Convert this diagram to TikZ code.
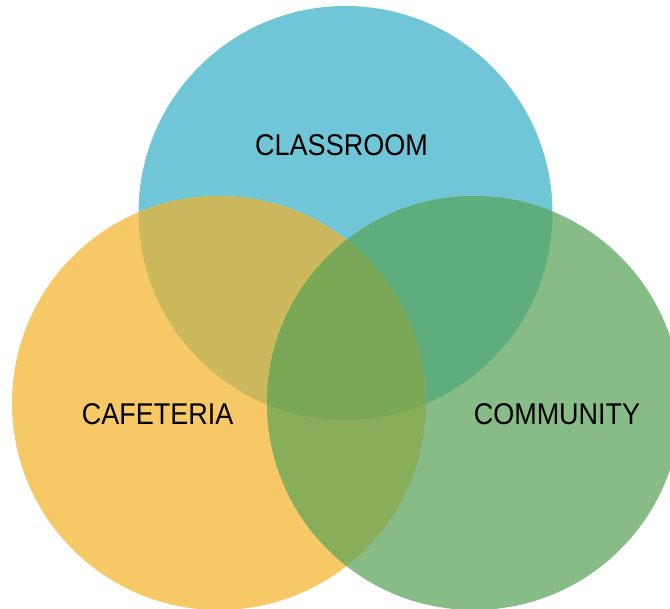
\documentclass[tikz,border=0pt]{standalone}
\usepackage{fontspec}
\setmainfont{Liberation Sans}[FakeStretch=0.9]
\definecolor{cblue}{HTML}{70C5D6}
\definecolor{corange}{HTML}{F6C866}
\definecolor{cgreen}{HTML}{88BC87}
\definecolor{cbo}{HTML}{CDB95D}
\definecolor{cbg}{HTML}{5FAD7D}
\definecolor{cog}{HTML}{88AE5C}
\definecolor{call}{HTML}{7BA857}
\begin{document}
\begin{tikzpicture}[x=1pt,y=-1pt,
  lbl/.style={font=\fontsize{30}{30}\selectfont, text=black, inner sep=0pt, anchor=center}]
\useasboundingbox (0,0) rectangle (670,609);
\clip (0,0) rectangle (670,609);
\coordinate (B) at (345.5,213);
\coordinate (O) at (219,403);
\coordinate (G) at (474,403);
\def\R{207pt}
\fill[cblue] (B) circle[radius=\R];
\fill[corange] (O) circle[radius=\R];
\fill[cgreen] (G) circle[radius=\R];
\begin{scope}
  \clip (B) circle[radius=\R];
  \fill[cbo] (O) circle[radius=\R];
  \fill[cbg] (G) circle[radius=\R];
\end{scope}
\begin{scope}
  \clip (O) circle[radius=\R];
  \fill[cog] (G) circle[radius=\R];
  \clip (G) circle[radius=\R];
  \fill[call] (B) circle[radius=\R];
\end{scope}
\node[lbl] (classroom) at (341.5,145.5) {CLASSROOM};
\node[lbl] (cafeteria) at (157.7,414.5) {CAFETERIA};
\node[lbl] (community) at (557,414.5) {COMMUNITY};
\end{tikzpicture}
\end{document}
